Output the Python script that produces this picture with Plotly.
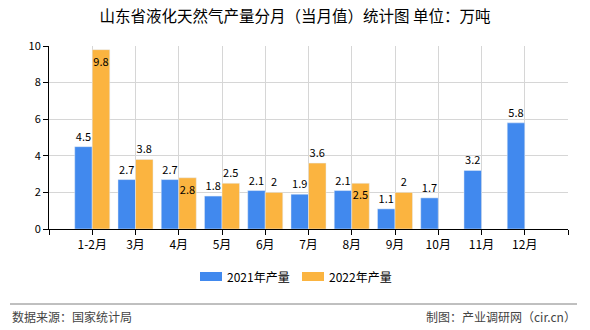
import plotly.graph_objects as go

# Monthly LNG output in Shandong (10k tonnes)
months = ["1-2月", "3月", "4月", "5月", "6月", "7月", "8月", "9月", "10月", "11月", "12月"]
output_2021 = [4.5, 2.7, 2.7, 1.8, 2.1, 1.9, 2.1, 1.1, 1.7, 3.2, 5.8]
output_2022 = [9.8, 3.8, 2.8, 2.5, 2, 3.6, 2.5, 2, None, None, None]
series_names = ["2021年产量", "2022年产量"]
y_ticks = [0, 2, 4, 6, 8, 10]

W, H = 590, 330
L, R, T, B = 49, 22, 46, 101
PW, PH = W - L - R, H - T - B


def px_x(x):
    return (x - L) / PW


def px_y(y):
    return (H - B - y) / PH


FONT = "Noto Sans CJK SC"
BLUE = "rgb(65,137,238)"
ORANGE = "rgb(251,180,64)"

xpos = list(range(len(months)))


def fmt(v):
    return "" if v is None else f"{v:g}"


# labels that would collide with neighbours sit just inside the bar top
pos_2022 = ["outside"] * len(output_2022)
for i in (0, 2, 6):
    pos_2022[i] = "inside"

fig = go.Figure()
fig.add_trace(go.Bar(
    x=xpos, y=output_2021, name=series_names[0], marker_color=BLUE,
    text=[fmt(v) for v in output_2021], textposition="outside",
    textfont=dict(family=FONT, size=11, color="black"),
    cliponaxis=False, showlegend=False,
))
fig.add_trace(go.Bar(
    x=xpos, y=output_2022, name=series_names[1], marker_color=ORANGE,
    text=[fmt(v) for v in output_2022], textposition=pos_2022,
    insidetextanchor="end", constraintext="none",
    textfont=dict(family=FONT, size=11, color="black"),
    cliponaxis=False, showlegend=False,
))

fig.update_layout(
    width=W, height=H,
    margin=dict(l=L, r=R, t=T, b=B, pad=0),
    paper_bgcolor="white", plot_bgcolor="white",
    barmode="group", bargap=0.19, bargroupgap=0,
    font=dict(family=FONT, size=11, color="black"),
    title=dict(
        text="山东省液化天然气产量分月（当月值）统计图 单位：万吨",
        x=0.5, xanchor="center", y=1 - 17 / H, yanchor="middle",
        font=dict(family=FONT, size=15.5, color="black"),
    ),
    showlegend=False,
    xaxis=dict(
        range=[-1, len(months)],
        tickvals=list(range(-1, len(months) + 1)),
        ticktext=[""] + months + [""],
        showgrid=True, gridcolor="#d6d6d6", gridwidth=1,
        showline=True, linecolor="black", linewidth=1,
        ticks="outside", ticklen=5, tickcolor="black",
        tickfont=dict(family=FONT, size=12, color="black"),
        zeroline=False, fixedrange=True,
    ),
    yaxis=dict(
        range=[0, 10], tickvals=y_ticks,
        showgrid=True, gridcolor="#d6d6d6", gridwidth=1,
        showline=True, linecolor="black", linewidth=1,
        ticks="outside", ticklen=5, tickcolor="black",
        tickfont=dict(family=FONT, size=11, color="black"),
        zeroline=False, fixedrange=True,
    ),
)

# legend: wide colour swatches followed by the series names
for (sx, color, name) in ((200, BLUE, series_names[0]), (302, ORANGE, series_names[1])):
    fig.add_shape(
        type="rect", xref="paper", yref="paper",
        x0=px_x(sx), x1=px_x(sx + 22), y0=px_y(281), y1=px_y(272),
        fillcolor=color, line=dict(width=0),
    )
    fig.add_annotation(
        text=name, xref="paper", yref="paper",
        x=px_x(sx + 25), y=px_y(276.5), xanchor="left", yanchor="middle",
        showarrow=False, font=dict(family=FONT, size=12, color="black"),
    )

# footer separator and source notes
fig.add_shape(
    type="line", xref="paper", yref="paper",
    x0=px_x(10), x1=px_x(577), y0=px_y(304), y1=px_y(304),
    line=dict(color="#808080", width=1),
)
fig.add_annotation(
    text="数据来源：国家统计局", xref="paper", yref="paper",
    x=px_x(10), y=px_y(316), xanchor="left", yanchor="middle",
    showarrow=False, font=dict(family=FONT, size=12, color="#444444"),
)
fig.add_annotation(
    text="制图：产业调研网（cir.cn）", xref="paper", yref="paper",
    x=px_x(578), y=px_y(316), xanchor="right", yanchor="middle",
    showarrow=False, font=dict(family=FONT, size=12, color="#444444"),
)

fig.write_html("out.html")
